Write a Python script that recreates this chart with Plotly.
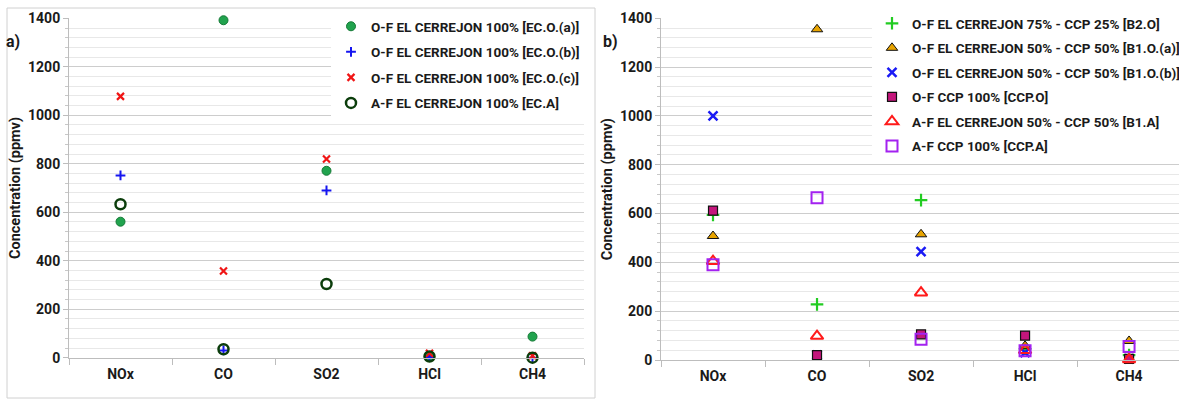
import plotly.graph_objects as go

W, H = 1179, 403

categories = ["NOx", "CO", "SO2", "HCl", "CH4"]

# Left panel (a)
ec_oa = [561, 1392, 771, 5, 87]
ec_ob = [752, 30, 690, 3, 0]
ec_oc = [1078, 358, 820, 18, 8]
ec_a = [633, 35, 304, 5, 0]

# Right panel (b)
b2_o = [594, 228, 655, 45, 20]
b1_oa = [508, 1355, 515, 58, 78]
b1_ob = [1000, 20, 444, 30, 5]
ccp_o = [612, 20, 105, 100, 5]
b1_a = [405, 98, 276, 40, 2]
ccp_a = [390, 665, 85, 38, 55]

y_ticks = [0, 200, 400, 600, 800, 1000, 1200, 1400]

FONT = "Roboto"

def px_x(p):
    return p / W

def px_y(p):
    return 1 - p / H

fig = go.Figure()

left = [
    ("O-F EL CERREJON 100% [EC.O.(a)]", ec_oa, dict(symbol="circle", size=9, color="#21A34E", line=dict(color="#157A36", width=1))),
    ("O-F EL CERREJON 100% [EC.O.(b)]", ec_ob, dict(symbol="cross-thin", size=7, color="#1515F0", line=dict(color="#1515F0", width=2))),
    ("O-F EL CERREJON 100% [EC.O.(c)]", ec_oc, dict(symbol="x-thin", size=7, color="#F01515", line=dict(color="#F01515", width=2.2))),
    ("A-F EL CERREJON 100% [EC.A]", ec_a, dict(symbol="circle-open", size=10, color="#0B3D0B", line=dict(color="#0B3D0B", width=2.5))),
]
for i, (name, vals, mk) in enumerate(left):
    fig.add_trace(go.Scatter(x=categories, y=vals, mode="markers", name=name, marker=mk,
                             legendgroup=f"l{i}",
                             xaxis="x", yaxis="y", legend="legend", cliponaxis=False))

right = [
    ("O-F EL CERREJON 75% - CCP 25% [B2.O]", b2_o, dict(symbol="cross-thin", size=9, color="#22CC22", line=dict(color="#22CC22", width=2.2))),
    ("O-F EL CERREJON 50% - CCP 50% [B1.O.(a)]", b1_oa, dict(symbol="triangle-up", size=10, color="#E8A400", line=dict(color="#111111", width=1))),
    ("O-F EL CERREJON 50% - CCP 50% [B1.O.(b)]", b1_ob, dict(symbol="x-thin", size=9, color="#1A1AF5", line=dict(color="#1A1AF5", width=2.5))),
    ("O-F CCP 100% [CCP.O]", ccp_o, dict(symbol="square", size=9, color="#C4167C", line=dict(color="#111111", width=1.2))),
    ("A-F EL CERREJON 50% - CCP 50% [B1.A]", b1_a, dict(symbol="triangle-up-open", size=11, color="#FF1A1A", line=dict(color="#FF1A1A", width=2))),
    ("A-F CCP 100% [CCP.A]", ccp_a, dict(symbol="square-open", size=11, color="#A322F0", line=dict(color="#A322F0", width=2))),
]
for i, (name, vals, mk) in enumerate(right):
    fig.add_trace(go.Scatter(x=categories, y=vals, mode="markers", name=name, marker=mk,
                             legendgroup=f"r{i}",
                             xaxis="x2", yaxis="y2", legend="legend2", cliponaxis=False))

tickfont = dict(family=FONT, size=14, color="#1a1a1a", weight="bold")

def yaxis(domain_y, anchor):
    return dict(
        domain=domain_y, anchor=anchor, range=[0, 1400], tickvals=y_ticks, automargin=False,
        showgrid=True, gridcolor="#CDCDCD", gridwidth=1,
        showline=True, linecolor="#BDBDBD", linewidth=1,
        ticks="outside", ticklen=5, tickcolor="#BDBDBD",
        minor=dict(dtick=40, showgrid=True, gridcolor="#E8E8E8", ticks="outside", ticklen=3, tickcolor="#C8C8C8"),
        tickfont=tickfont, zeroline=False,
        title=dict(text="Concentration (ppmv)", font=dict(family=FONT, size=14.5, color="#1a1a1a", weight="bold"), standoff=3),
    )

def xaxis(domain_x, anchor, rng):
    return dict(
        domain=domain_x, anchor=anchor, type="category", categoryorder="array", categoryarray=categories,
        range=rng, tickson="boundaries", ticks="outside", ticklen=6, tickcolor="#BDBDBD", automargin=False,
        showline=True, linecolor="#BDBDBD", linewidth=1, showgrid=False,
        tickfont=tickfont, ticklabelstandoff=3,
    )

legfont = dict(family=FONT, size=13.5, color="#1a1a1a", weight="bold")

fig.update_layout(
    width=W, height=H,
    margin=dict(l=0, r=0, t=0, b=0, autoexpand=False),
    paper_bgcolor="white", plot_bgcolor="white",
    xaxis=xaxis([px_x(69), px_x(584)], "y", [-0.5, 4.5]),
    yaxis=yaxis([px_y(357.7), px_y(18.3)], "x"),
    xaxis2=xaxis([px_x(661), 1.0], "y2", [-0.5, 4.48]),
    yaxis2=yaxis([px_y(360), px_y(18.3)], "x2"),
    legend=dict(x=px_x(331), y=px_y(11), xanchor="left", yanchor="top", font=legfont,
                bgcolor="rgba(255,255,255,1)", traceorder="grouped", itemwidth=30, tracegroupgap=5),
    legend2=dict(x=px_x(872), y=px_y(8), xanchor="left", yanchor="top", font=legfont,
                 bgcolor="rgba(255,255,255,1)", traceorder="grouped", itemwidth=30, tracegroupgap=4),
    showlegend=True,
    annotations=[
        dict(text="a)", x=px_x(4), y=px_y(42), xref="paper", yref="paper", xanchor="left", yanchor="middle",
             showarrow=False, font=dict(family=FONT, size=16, color="#1a1a1a", weight="bold")),
        dict(text="b)", x=px_x(601), y=px_y(42), xref="paper", yref="paper", xanchor="left", yanchor="middle",
             showarrow=False, font=dict(family=FONT, size=16, color="#1a1a1a", weight="bold")),
    ],
    shapes=[
        dict(type="rect", xref="paper", yref="paper", x0=px_x(7), x1=px_x(595), y0=px_y(398), y1=px_y(8),
             line=dict(color="#D0D0D0", width=1), layer="below"),
    ],
)

fig.write_html("out.html")
